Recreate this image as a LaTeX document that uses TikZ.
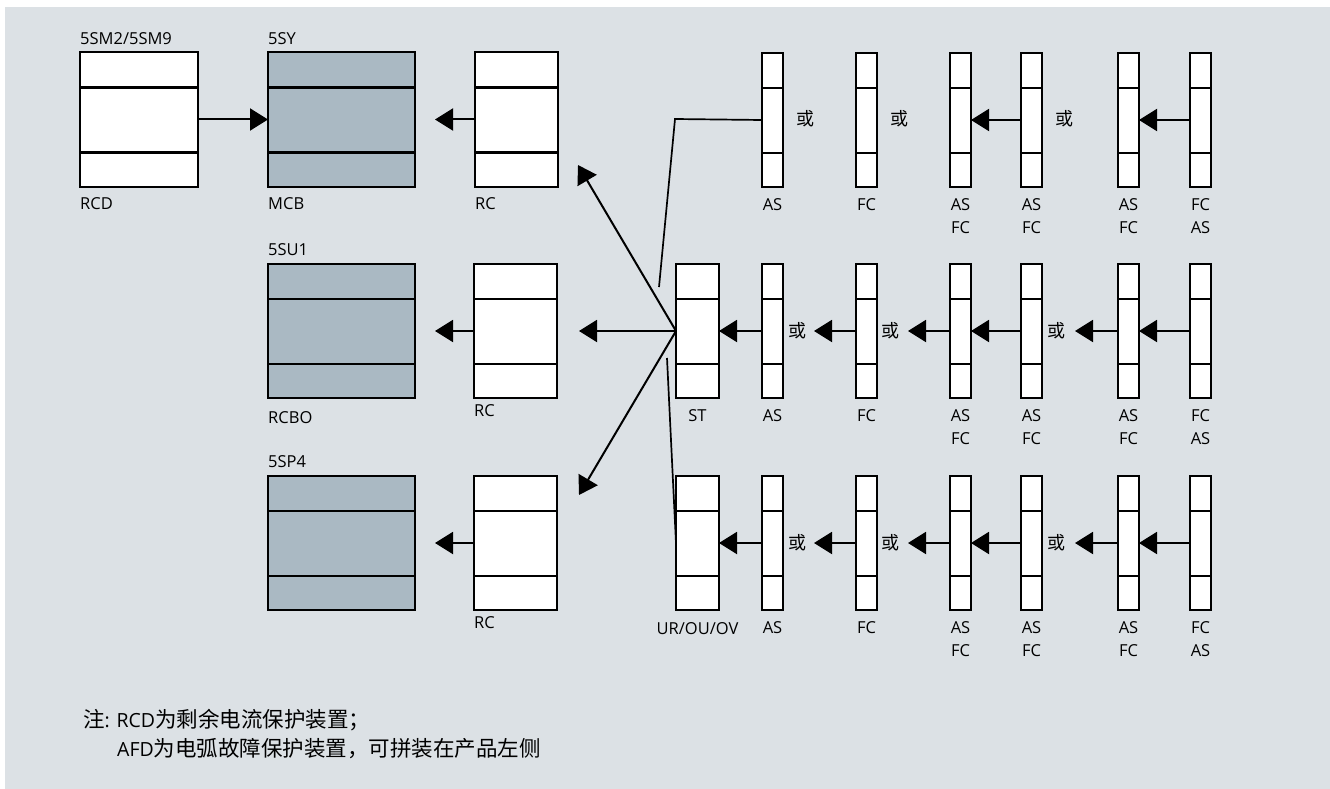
\documentclass[tikz,border=0pt]{standalone}
\usepackage{fontspec}
\setmainfont{Open Sans}
\newfontfamily\cjk{Noto Sans CJK SC}
\usepackage{tikz}
\usetikzlibrary{arrows.meta,positioning}
\definecolor{panelGrey}{HTML}{DCE1E5}
\definecolor{unitGrey}{HTML}{AAB9C3}
\newcommand{\zhnote}[1]{{\cjk\fontsize{21.5}{20}\selectfont #1}}
\tikzset{
  mod/base/.style={draw, line width=2pt, fill=white, inner sep=0pt, outer sep=0pt, minimum height=134pt,
    path picture={\draw[line width=2.4pt]
      ([yshift=-35pt]path picture bounding box.north west) -- ([yshift=-35pt]path picture bounding box.north east)
      ([yshift=34pt]path picture bounding box.south west) -- ([yshift=34pt]path picture bounding box.south east);}},
  mod/unit/.style={mod/base, fill=unitGrey, minimum width=147pt},
  mod/rcd/.style={mod/base, minimum width=118pt},
  mod/rc/.style={mod/base, minimum width=83pt},
  mod/aux/.style={mod/base, minimum width=43pt},
  mod/slim/.style={mod/base, minimum width=21pt},
  mod/label/.style={font=\fontsize{16.5}{23}\selectfont, inner sep=0pt, align=center},
  mod/top/.style={mod/label, text depth=0pt},
  mod/or/.style={font={\cjk\fontsize{18}{18}\selectfont}, inner sep=0pt},
  mod/arr/.style={line width=2pt, -{Triangle[length=18pt,width=22pt]}},
  mod/line/.style={line width=1.7pt},
  mod/note/.style={inner sep=0pt, anchor=west, font=\fontsize{19.5}{19.5}\selectfont}
}

\begin{document}
\begin{tikzpicture}[x=1pt, y=-1pt]
  \useasboundingbox (0,0) rectangle (1330,789);
  \fill[white] (0,0) rectangle (1330,789);
  \fill[panelGrey] (5,7) rectangle (1330,789);

  % base units and accessories
  \node[mod/rcd] (rcd) at (139,119.5) {};
  \node[mod/unit] (mcb) at (341.5,119.5) {};
  \node[mod/rc] (rc1) at (516.5,119.5) {};
  \node[mod/unit] (rcbo) at (341.5,331) {};
  \node[mod/rc] (rc2) at (515.5,331) {};
  \node[mod/unit] (afd) at (341.5,543) {};
  \node[mod/rc] (rc3) at (515.5,543) {};

  \node[mod/top, above right=8pt and 0pt of rcd.north west] {5SM2/5SM9};
  \node[mod/top, above right=8pt and 0pt of mcb.north west] {5SY};
  \node[mod/top, above right=8pt and 0pt of rcbo.north west] {5SU1};
  \node[mod/top, above right=8pt and 0pt of afd.north west] {5SP4};
  \node[mod/label, below right=11pt and 0pt of rcd.south west] {RCD};
  \node[mod/label, below right=11pt and 0pt of mcb.south west] {MCB};
  \node[mod/label, below right=11pt and 0pt of rc1.south west] {RC};
  \node[mod/label, below right=13pt and 0pt of rcbo.south west] {RCBO};
  \node[mod/label, below right=6pt and 0pt of rc2.south west] {RC};
  \node[mod/label, below right=6pt and 0pt of rc3.south west] {RC};

  \draw[mod/arr] (rcd) -- (mcb);
  \draw[mod/arr, shorten >=20pt] (rc1) -- (mcb);
  \draw[mod/arr, shorten >=20pt] (rc2) -- (rcbo);
  \draw[mod/arr, shorten >=20pt] (rc3) -- (afd);

  % auxiliary switches
  \node[mod/aux] (st) at (697.5,331) {};
  \node[mod/aux] (ur) at (697.5,543) {};
  \node[mod/label, below=11pt of st] {ST};
  \node[mod/label, below=12pt of ur] {UR/OU/OV};

  \foreach \r/\y in {1/120,2/331,3/543}
    \foreach \c/\x/\t in {1/772.5/AS,2/866.5/FC,3/960.5/{AS\\FC},4/1031.5/{AS\\FC},5/1128.5/{AS\\FC},6/1200.5/{FC\\AS}}{
      \node[mod/slim] (m\r\c) at (\x,\y) {};
      \node[mod/label, below=11pt of m\r\c] {\t};
    }

  \foreach \x [count=\i] in {805,899,1064}
    \node[mod/or] (or1\i) at (\x,119) {或};
  \foreach \r/\y in {2/331,3/543}
    \foreach \x [count=\i] in {797,890,1056}
      \node[mod/or] (or\r\i) at (\x,\y) {或};

  \draw[mod/arr] (m14) -- (m13);
  \draw[mod/arr] (m16) -- (m15);
  \foreach \r/\s in {2/st,3/ur}{
    \draw[mod/arr] (m\r1) -- (\s);
    \draw[mod/arr, shorten >=31pt] (m\r2) -- (m\r1);
    \draw[mod/arr, shorten >=31pt] (m\r3) -- (m\r2);
    \draw[mod/arr] (m\r4) -- (m\r3);
    \draw[mod/arr, shorten >=33pt] (m\r5) -- (m\r4);
    \draw[mod/arr] (m\r6) -- (m\r5);
  }

  % fan out of ST
  \coordinate (upTip) at (578,165);
  \coordinate (leftTip) at (579,331);
  \coordinate (downTip) at (579,495);
  \coordinate (topBend) at (675,119);
  \coordinate (topEnd) at (659,287);
  \coordinate (botStart) at (667,358);
  \draw[mod/arr] (st.west) -- (upTip);
  \draw[mod/arr] (st.west) -- (leftTip);
  \draw[mod/arr] (st.west) -- (downTip);
  \draw[mod/line] (m11.west) -- (topBend) -- (topEnd);
  \draw[mod/line] (botStart) -- (ur.west);

  \node[mod/note] (note1) at (83,720) {\zhnote{注}: RCD\zhnote{为剩余电流保护装置；}};
  \node[mod/note] (note2) at (117,749) {AFD\zhnote{为电弧故障保护装置，可拼装在产品左侧}};
\end{tikzpicture}
\end{document}
